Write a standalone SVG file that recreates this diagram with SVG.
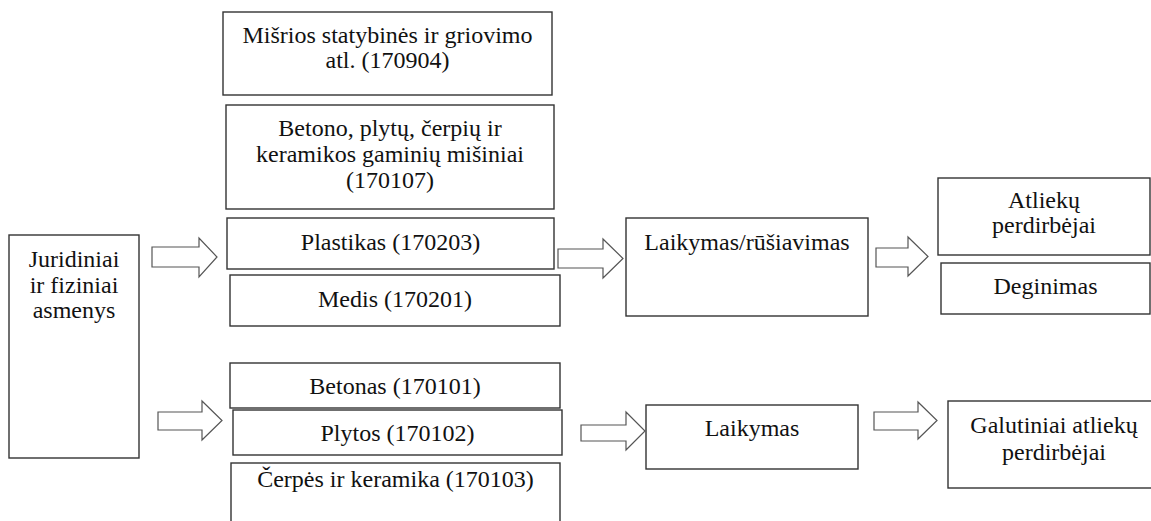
<svg xmlns="http://www.w3.org/2000/svg" width="1151" height="521" viewBox="0 0 1151 521">
<defs>
<path id="arrowShape" d="M0,-10 H46 V-19 L64,0 L46,19 V10 H0 Z"/>
</defs>
<rect width="1151" height="521" fill="#fff"/>
<g fill="#fff" stroke="#333" stroke-width="1.4">
<g id="n-misrios"><rect x="223" y="12" width="329" height="83"/></g>
<g id="n-betono"><rect x="226" y="105" width="328" height="104"/></g>
<g id="n-plastikas"><rect x="227" y="218" width="327" height="51"/></g>
<g id="n-medis"><rect x="230" y="275" width="330" height="51"/></g>
<g id="n-juridiniai"><rect x="9" y="235" width="130" height="223"/></g>
<g id="n-betonas"><rect x="230" y="363" width="330" height="45"/></g>
<g id="n-plytos"><rect x="233" y="410" width="329" height="45"/></g>
<g id="n-cerpes"><rect x="231" y="463" width="329" height="70"/></g>
<g id="n-laikymas-rus"><rect x="626" y="218" width="242" height="98"/></g>
<g id="n-laikymas"><rect x="646" y="405" width="212" height="64"/></g>
<g id="n-atlieku"><rect x="938" y="178" width="212" height="77"/></g>
<g id="n-deginimas"><rect x="941" y="263" width="209" height="51"/></g>
<g id="n-galutiniai"><rect x="948" y="401" width="212" height="87"/></g>
</g>
<g id="labels">
<text font-family="Liberation Serif" font-size="24" fill="#111" text-anchor="middle" x="387.5" y="43">Mišrios statybinės ir griovimo</text>
<text font-family="Liberation Serif" font-size="24" fill="#111" text-anchor="middle" x="387.5" y="68">atl. (170904)</text>
<text font-family="Liberation Serif" font-size="24" fill="#111" text-anchor="middle" x="390" y="136">Betono, plytų, čerpių ir</text>
<text font-family="Liberation Serif" font-size="24" fill="#111" text-anchor="middle" x="390" y="162">keramikos gaminių mišiniai</text>
<text font-family="Liberation Serif" font-size="24" fill="#111" text-anchor="middle" x="390" y="188">(170107)</text>
<text font-family="Liberation Serif" font-size="24" fill="#111" text-anchor="middle" x="390.5" y="250">Plastikas (170203)</text>
<text font-family="Liberation Serif" font-size="24" fill="#111" text-anchor="middle" x="395" y="307">Medis (170201)</text>
<text font-family="Liberation Serif" font-size="24" fill="#111" text-anchor="middle" x="74" y="267">Juridiniai</text>
<text font-family="Liberation Serif" font-size="24" fill="#111" text-anchor="middle" x="74" y="293">ir fiziniai</text>
<text font-family="Liberation Serif" font-size="24" fill="#111" text-anchor="middle" x="74" y="318">asmenys</text>
<text font-family="Liberation Serif" font-size="24" fill="#111" text-anchor="middle" x="395" y="394">Betonas (170101)</text>
<text font-family="Liberation Serif" font-size="24" fill="#111" text-anchor="middle" x="397.5" y="441">Plytos (170102)</text>
<text font-family="Liberation Serif" font-size="24" fill="#111" text-anchor="middle" x="395.5" y="487">Čerpės ir keramika (170103)</text>
<text font-family="Liberation Serif" font-size="24" fill="#111" text-anchor="middle" x="747" y="250">Laikymas/rūšiavimas</text>
<text font-family="Liberation Serif" font-size="24" fill="#111" text-anchor="middle" x="752" y="436">Laikymas</text>
<text font-family="Liberation Serif" font-size="24" fill="#111" text-anchor="middle" x="1044" y="208">Atliekų</text>
<text font-family="Liberation Serif" font-size="24" fill="#111" text-anchor="middle" x="1044" y="233">perdirbėjai</text>
<text font-family="Liberation Serif" font-size="24" fill="#111" text-anchor="middle" x="1045.5" y="294">Deginimas</text>
<text font-family="Liberation Serif" font-size="24" fill="#111" text-anchor="middle" x="1054" y="433">Galutiniai atliekų</text>
<text font-family="Liberation Serif" font-size="24" fill="#111" text-anchor="middle" x="1054" y="460">perdirbėjai</text>
</g>
<g id="connectors" fill="#fff" stroke="#555" stroke-width="1.2">
<path d="M152,247 H199 V238 L217,257 L199,277 V267 H152 Z"/>
<path d="M158,412 H202 V401 L222,420.5 L202,440 V430 H158 Z"/>
<path d="M558,249 H603 V239 L623,258.5 L603,278 V268 H558 Z"/>
<path d="M876,248 H908 V237 L928,256.5 L908,276 V267 H876 Z"/>
<path d="M581,425 H626 V412 L645,431 L626,450 V441 H581 Z"/>
<path d="M874,412 H918 V402 L937,420.5 L918,439 V430 H874 Z"/>
</g>
</svg>
